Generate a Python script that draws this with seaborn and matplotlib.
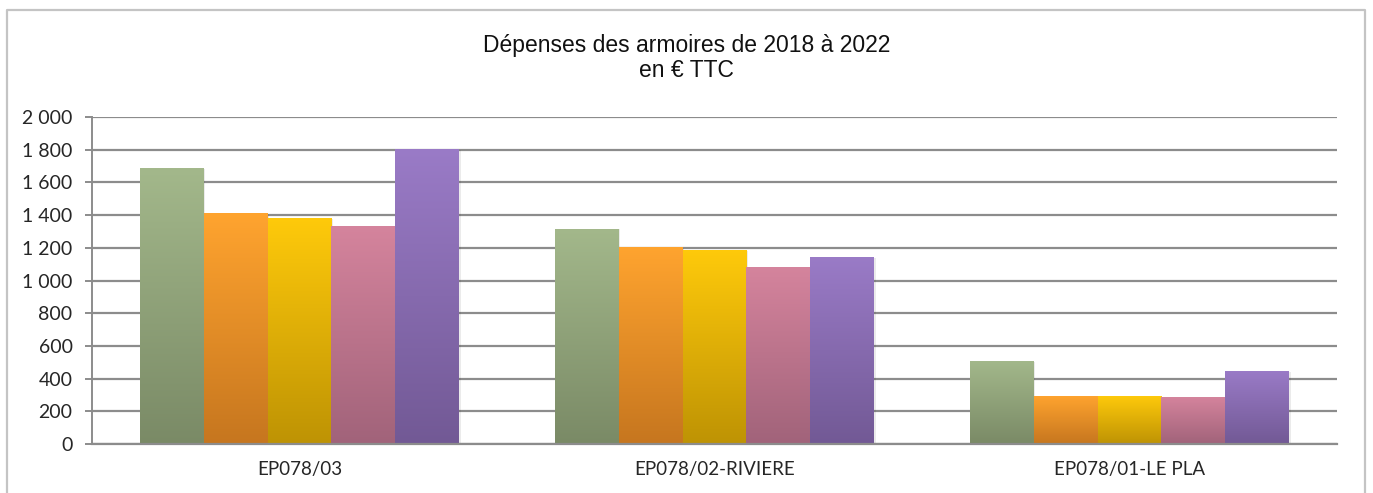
import matplotlib
matplotlib.use("Agg")
import matplotlib.pyplot as plt
import matplotlib.colors as mcolors
from matplotlib.patches import Rectangle
from matplotlib.ticker import FuncFormatter
import numpy as np
import pandas as pd
import seaborn as sns

sites = ["EP078/03", "EP078/02-RIVIERE", "EP078/01-LE PLA"]
years = ["2018", "2019", "2020", "2021", "2022"]
v2018 = [1686, 1318, 509]
v2019 = [1410, 1206, 294]
v2020 = [1385, 1189, 294]
v2021 = [1336, 1085, 288]
v2022 = [1806, 1146, 447]

# light (top) / dark (bottom) shade for each year
top_colors = ["#A3B88B", "#FFA42F", "#FFCA0B", "#D5849D", "#9A7BC7"]
bottom_colors = ["#7A8A66", "#C6761F", "#BE9304", "#A1637A", "#725995"]

rows = []
for yr, vals in zip(years, [v2018, v2019, v2020, v2021, v2022]):
    for site, v in zip(sites, vals):
        rows.append({"site": site, "year": yr, "value": v})
df = pd.DataFrame(rows)

sns.set_style("white")
plt.rcParams["font.family"] = ["Lato", "DejaVu Sans"]

fig = plt.figure(figsize=(13.73, 4.93), dpi=100)
ax = fig.add_axes([92 / 1373, 1 - 444 / 493, (1337 - 92) / 1373, (444 - 117) / 493])

sns.barplot(data=df, x="site", y="value", hue="year", order=sites, hue_order=years,
            palette=top_colors, width=0.77, gap=0, legend=False, ax=ax, edgecolor="none")

# vertical gradient fill on each bar, plus a soft shadow
grad = np.linspace(0, 1, 256).reshape(-1, 1)
for i, container in enumerate(ax.containers):
    cmap = mcolors.LinearSegmentedColormap.from_list(
        f"g{i}", [bottom_colors[i], top_colors[i]])
    for bar in container:
        x0, y0 = bar.get_x(), bar.get_y()
        w, h = bar.get_width(), bar.get_height()
        shadow = Rectangle((x0 + 0.004, y0 - 6), w, h, facecolor="#000000",
                           alpha=0.08, edgecolor="none", zorder=1.5)
        ax.add_patch(shadow)
        bar.set_facecolor("none")
        bar.set_zorder(2)
        im = ax.imshow(grad, extent=(x0, x0 + w, y0, y0 + h), origin="lower",
                       cmap=cmap, aspect="auto", zorder=2)
        im.set_clip_path(bar)

ax.set_xlim(-0.5, 2.5)
ax.set_ylim(0, 2000)
ax.set_yticks(range(0, 2001, 200))
ax.yaxis.set_major_formatter(FuncFormatter(lambda v, p: f"{int(v):,}".replace(",", " ")))
ax.grid(axis="y", color="#8C8C8C", linewidth=1.6, zorder=0)
ax.set_axisbelow(True)

ax.set_xticks([0, 1, 2])
ax.set_xticks([-0.5, 0.5, 1.5, 2.5], minor=True)
ax.tick_params(axis="x", which="major", length=0, pad=12, labelsize=13.5)
ax.tick_params(axis="x", which="minor", length=5, width=1.4, color="#8C8C8C", direction="out")
ax.tick_params(axis="y", length=5, width=1.4, color="#8C8C8C", direction="out",
               labelsize=14, pad=9, left=True)
ax.set_xlabel("")
ax.set_ylabel("")

for s in ["top", "right"]:
    ax.spines[s].set_visible(False)
ax.spines["left"].set_color("#8C8C8C")
ax.spines["left"].set_linewidth(1.4)
ax.spines["bottom"].set_color("#8C8C8C")
ax.spines["bottom"].set_linewidth(1.6)

fig.text(0.5, 1 - 58 / 493, "Dépenses des armoires de 2018 à 2022\nen € TTC",
         ha="center", va="center", fontsize=16.5, linespacing=1.15, color="#111111",
         family=["Liberation Sans", "DejaVu Sans"])

# outer chart frame (open at the bottom)
frame_x = [7 / 1373, 7 / 1373, 1365 / 1373, 1365 / 1373]
frame_y = [0, 1 - 10 / 493, 1 - 10 / 493, 0]
fig.add_artist(plt.Line2D(frame_x, frame_y, color="#C4C4C4", linewidth=1.6,
                          transform=fig.transFigure))

fig.savefig("out.png", dpi=100)
